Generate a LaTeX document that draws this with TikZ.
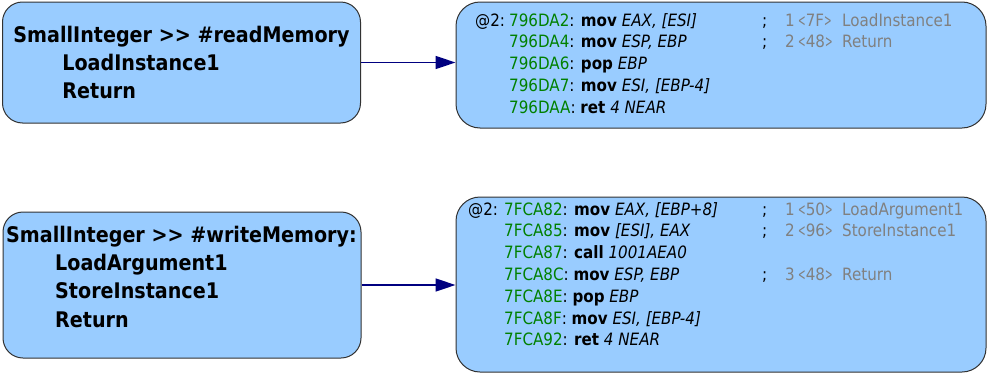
\documentclass[tikz,border=0pt]{standalone}
\usepackage{fontspec}
\setmainfont{DejaVu Sans}[FakeStretch=0.89]
\usetikzlibrary{arrows.meta}
\definecolor{boxfill}{RGB}{153,204,255}
\definecolor{boxline}{RGB}{50,50,50}
\definecolor{codegreen}{RGB}{0,128,0}
\definecolor{cmtgrey}{RGB}{128,128,128}
\definecolor{arrowblue}{RGB}{0,0,128}
\newcommand\myaddr[1]{\textcolor{codegreen}{#1}: }
\newcommand\mnem[1]{\textbf{#1}}
\newcommand\opnd[1]{\textit{#1}}
\newcommand\nlt{\scalebox{0.6}[1]{<}}
\newcommand\ngt{\scalebox{0.6}[1]{>}}
\newcommand\cmt[3]{\makebox[23pt][l]{;}\textcolor{cmtgrey}{\makebox[13pt][l]{#1}\makebox[44pt][l]{\nlt#2\ngt}#3}}
\tikzset{
  srcbox/.style={draw=boxline, line width=1pt, fill=boxfill, rounded corners=20pt, minimum width=#1, inner sep=0pt},
  codebox/.style={draw=boxline, line width=1pt, fill=boxfill, rounded corners=24pt, inner sep=0pt},
  srctext/.style={anchor=base, inner sep=0pt, font=\fontsize{21.5}{28.4}\selectfont\bfseries, align=left},
  codetext/.style={anchor=base west, inner sep=0pt, font=\fontsize{17}{21.8}\selectfont},
  conn/.style={draw=arrowblue, line width=1.5pt, -{Triangle[length=20pt,width=13pt]}}
}
\begin{document}
\begin{tikzpicture}[x=1pt,y=-1pt]
\useasboundingbox (0,0) rectangle (988,375);
% boxes
\node[srcbox=358pt, minimum height=121pt] (b1) at (181.5,62.5) {};
\node[codebox, minimum width=530pt, minimum height=126pt] (b2) at (721,65) {};
\node[srcbox=358pt, minimum height=146pt] (b3) at (182,285) {};
\node[codebox, minimum width=530pt, minimum height=175pt] (b4) at (721,284.5) {};
% left texts
\node[srctext] (t1) at (181.5,42) {\begin{tabular}[t]{@{}l@{}}SmallInteger >{}> \#readMemory\\\hspace{49pt}LoadInstance1\\\hspace{49pt}Return\end{tabular}};
\node[srctext] (t3) at (181.5,242) {\begin{tabular}[t]{@{}l@{}}SmallInteger >{}> \#writeMemory:\\\hspace{49pt}LoadArgument1\\\hspace{49pt}StoreInstance1\\\hspace{49pt}Return\end{tabular}};
% top right code
\node[codetext] (p2) at (475,26) {@2:};
\node[codetext] (c2) at (509,26) {\begin{tabular}[t]{@{}l@{}}
\myaddr{796DA2}\mnem{mov} \opnd{EAX, [ESI]}\\
\myaddr{796DA4}\mnem{mov} \opnd{ESP, EBP}\\
\myaddr{796DA6}\mnem{pop} \opnd{EBP}\\
\myaddr{796DA7}\mnem{mov} \opnd{ESI, [EBP-4]}\\
\myaddr{796DAA}\mnem{ret} \opnd{4 NEAR}
\end{tabular}};
\node[codetext] (m2) at (762,26) {\begin{tabular}[t]{@{}l@{}}
\cmt{1}{7F}{LoadInstance1}\\
\cmt{2}{48}{Return}
\end{tabular}};
% bottom right code
\node[codetext] (p4) at (468,215) {@2:};
\node[codetext] (c4) at (504,215) {\begin{tabular}[t]{@{}l@{}}
\myaddr{7FCA82}\mnem{mov} \opnd{EAX, [EBP+8]}\\
\myaddr{7FCA85}\mnem{mov} \opnd{[ESI], EAX}\\
\myaddr{7FCA87}\mnem{call} \opnd{1001AEA0}\\
\myaddr{7FCA8C}\mnem{mov} \opnd{ESP, EBP}\\
\myaddr{7FCA8E}\mnem{pop} \opnd{EBP}\\
\myaddr{7FCA8F}\mnem{mov} \opnd{ESI, [EBP-4]}\\
\myaddr{7FCA92}\mnem{ret} \opnd{4 NEAR}
\end{tabular}};
\node[codetext] (m4) at (762,215) {\begin{tabular}[t]{@{}l@{}}
\cmt{1}{50}{LoadArgument1}\\
\cmt{2}{96}{StoreInstance1}\\
\\
\cmt{3}{48}{Return}
\end{tabular}};
% connectors
\draw[conn] (b1.east) -- (b2.west |- b1.east);
\draw[conn] (b3.east) -- (b4.west |- b3.east);
\end{tikzpicture}
\end{document}
